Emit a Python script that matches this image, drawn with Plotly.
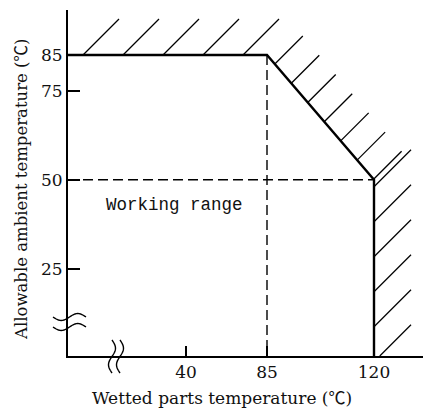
import numpy as np
import plotly.graph_objects as go

# ---------------- data ----------------
Y_TICK_VALUES = [25, 50, 75, 85]
X_TICK_VALUES = [40, 85, 120]
X_TICK_LABELS = ["40", "85", "120"]

MAX_AMBIENT = 85            # allowable ambient temperature up to the knee
KNEE_WETTED = 85            # wetted temperature where derating starts
MAX_WETTED = 120            # maximum wetted parts temperature
AMBIENT_AT_MAX_WETTED = 50  # allowable ambient at maximum wetted temperature

X_LABEL = "Wetted parts temperature (℃)"
Y_LABEL = "Allowable ambient temperature (℃)"
REGION_LABEL = "Working range"

# schematic (broken) x scale: temperature -> axis position
X_SCALE_TEMP = [0, 40, 85, 120, 136]
X_SCALE_POS = [0, 118, 199, 306, 355]
X_AXIS_START = 0
Y_RANGE = [0.6, 97.6]

# ---------------- figure geometry ----------------
W, H = 423, 412
M_L, M_R, M_T, M_B = 68, 0, 10, 56
PW, PH = W - M_L - M_R, H - M_T - M_B
PPY = PH / (Y_RANGE[1] - Y_RANGE[0])   # pixels per y unit


def xs(v):
    return np.interp(v, X_SCALE_TEMP, X_SCALE_POS)


def to_pix(xp, y):
    return np.array([xp, (y - Y_RANGE[0]) * PPY], dtype=float)


def from_pix(p):
    return p[0], Y_RANGE[0] + p[1] / PPY


def hatch(p0, p1, first, step, length):
    seg = p1 - p0
    L = np.hypot(*seg)
    u = seg / L
    hx, hy = [], []
    d = first
    while d <= L + length:
        s = p0 + u * d
        e = s + np.array([length, length])
        if s[1] < 0:
            s = s + np.array([-s[1], -s[1]])
        if d <= L + 0.1 or (e[1] > 0 and s[1] <= 0.01):
            if e[1] > s[1]:
                a = from_pix(s)
                b = from_pix(e)
                hx += [a[0], b[0], None]
                hy += [a[1], b[1], None]
        d += step
    return hx, hy


def cjk_degree(text):
    return text.replace(
        "℃", "<span style=\"font-family:'Noto Sans CJK JP'\">℃</span>")


fig = go.Figure()

# boundary of working range
bx = xs([X_AXIS_START, KNEE_WETTED, MAX_WETTED, MAX_WETTED])
by = [MAX_AMBIENT, MAX_AMBIENT, AMBIENT_AT_MAX_WETTED, Y_RANGE[0]]

# hatching outside the boundary
A = to_pix(bx[0], by[0])
B = to_pix(bx[1], by[1])
C = to_pix(bx[2], by[2])
D = to_pix(bx[3], by[3])
HX, HY = [], []
for p0, p1, first, step, length in [
    (A, B, 15, 40, 36),
    (B, C, 12, 25.3, 28),
    (C, D, 7, 35, 37),
]:
    hx, hy = hatch(p0, p1, first, step, length)
    HX += hx
    HY += hy

fig.add_trace(go.Scatter(x=HX, y=HY, mode="lines",
                         line=dict(color="black", width=1.3),
                         hoverinfo="skip", showlegend=False))

# dashed reference lines
fig.add_trace(go.Scatter(x=xs([KNEE_WETTED, KNEE_WETTED]),
                         y=[MAX_AMBIENT, Y_RANGE[0]], mode="lines",
                         line=dict(color="black", width=1.4, dash="10px,5px"),
                         showlegend=False, hoverinfo="skip"))
fig.add_trace(go.Scatter(x=xs([X_AXIS_START, MAX_WETTED]),
                         y=[AMBIENT_AT_MAX_WETTED, AMBIENT_AT_MAX_WETTED],
                         mode="lines",
                         line=dict(color="black", width=1.4, dash="10px,5px"),
                         showlegend=False, hoverinfo="skip"))

fig.add_trace(go.Scatter(x=bx, y=by, mode="lines",
                         line=dict(color="black", width=2.4),
                         showlegend=False, hoverinfo="skip"))

# axis-break symbols (paper-referenced shapes so they are not clipped)
shapes = []
t = np.linspace(0, 1, 25)
for yoff in (39, 29):  # pixels above the x axis
    px = -15 + 33 * t
    py = yoff + 3.5 * np.sin(2 * np.pi * t + np.pi)
    pts = [(x / PW, y / PH) for x, y in zip(px, py)]
    path = "M " + " L ".join(f"{a:.5f},{b:.5f}" for a, b in pts)
    shapes.append(dict(type="path", path=path, xref="paper", yref="paper",
                       line=dict(color="black", width=1.4)))
for xoff in (44, 52):  # pixels right of the y axis
    py = 16 - 33 * t
    px = xoff + 3.5 * np.sin(2 * np.pi * t)
    pts = [(x / PW, y / PH) for x, y in zip(px, py)]
    path = "M " + " L ".join(f"{a:.5f},{b:.5f}" for a, b in pts)
    shapes.append(dict(type="path", path=path, xref="paper", yref="paper",
                       line=dict(color="black", width=1.4)))

SERIF = "DejaVu Serif, Liberation Serif, serif"

annotations = [
    dict(text=REGION_LABEL, x=xs(KNEE_WETTED) - 93, y=42.9, xref="x", yref="y",
         showarrow=False, font=dict(family="Liberation Mono, monospace",
                                    size=17.5, color="#111")),
    dict(text=cjk_degree(X_LABEL), x=(222 - M_L) / PW, y=-(396 - M_T - PH) / PH,
         xref="paper", yref="paper", showarrow=False,
         xanchor="center", yanchor="middle",
         font=dict(family=SERIF, size=17, color="#111")),
    dict(text=cjk_degree(Y_LABEL), x=(20 - M_L) / PW, y=1 - (190 - M_T) / PH,
         xref="paper", yref="paper", showarrow=False, textangle=-90,
         xanchor="center", yanchor="middle",
         font=dict(family=SERIF, size=16.5, color="#111")),
]

fig.update_layout(
    width=W, height=H,
    margin=dict(l=M_L, r=M_R, t=M_T, b=M_B, pad=0),
    paper_bgcolor="white", plot_bgcolor="white",
    shapes=shapes, annotations=annotations,
    showlegend=False,
    xaxis=dict(range=[0, PW], tickvals=xs(X_TICK_VALUES), ticktext=X_TICK_LABELS,
               ticks="inside", ticklen=10, tickwidth=1.5, tickcolor="black",
               showline=True, linecolor="black", linewidth=2,
               showgrid=False, zeroline=False, fixedrange=True,
               tickfont=dict(family=SERIF, size=17, color="#111")),
    yaxis=dict(range=Y_RANGE, tickvals=Y_TICK_VALUES,
               ticks="inside", ticklen=12, tickwidth=2, tickcolor="black",
               showline=True, linecolor="black", linewidth=2,
               showgrid=False, zeroline=False, fixedrange=True,
               tickfont=dict(family=SERIF, size=17, color="#111")),
)

fig.write_html("out.html", config={"displayModeBar": False},
               post_script="document.body.style.margin='0';"
                           "document.body.style.padding='0';")
